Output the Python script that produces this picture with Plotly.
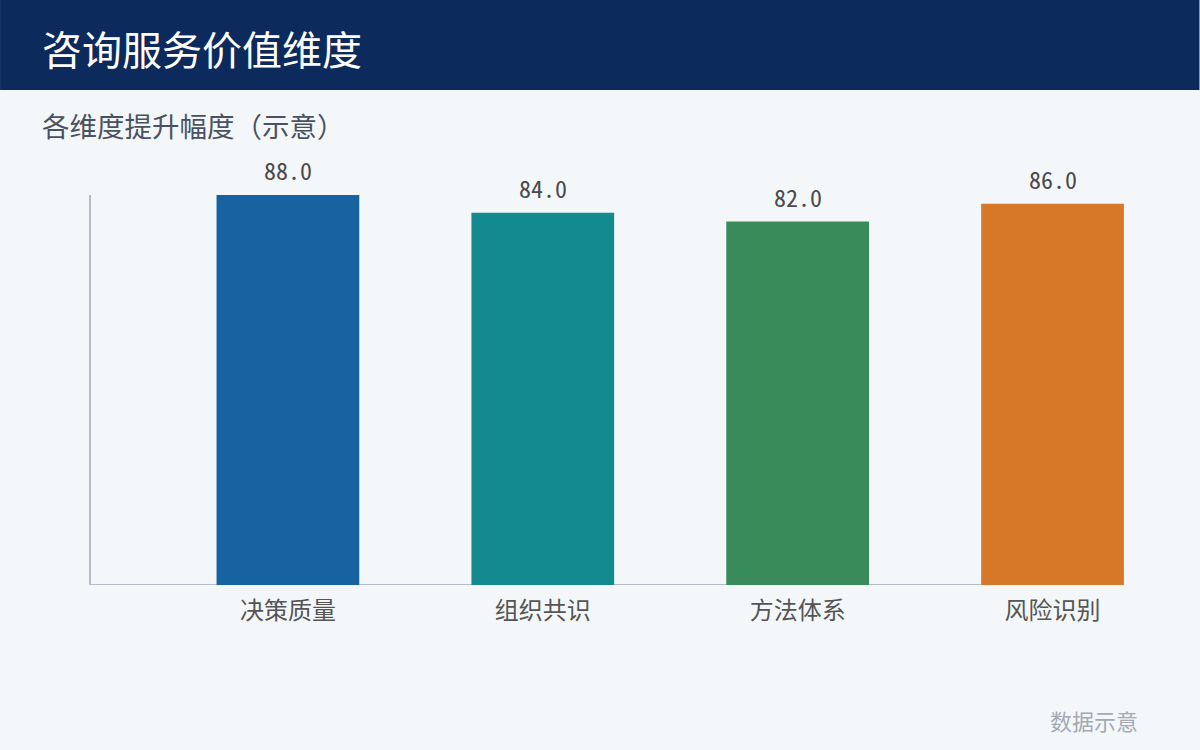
import plotly.graph_objects as go

categories = ["决策质量", "组织共识", "方法体系", "风险识别"]
values = [88.0, 84.0, 82.0, 86.0]
bar_colors = ["#1763A2", "#138B8E", "#3A8B5A", "#D77828"]

title_text = "咨询服务价值维度"
subtitle_text = "各维度提升幅度（示意）"
note_text = "数据示意"

FONT = "Noto Sans CJK SC"
NUM_FONT = "Noto Sans Mono CJK SC, Noto Sans CJK SC"

fig = go.Figure()
fig.add_trace(go.Bar(
    x=list(range(len(categories))),
    y=values,
    marker=dict(color=bar_colors, line=dict(width=0)),
    width=0.56,
    hoverinfo="skip",
))

# value labels
for i, v in enumerate(values):
    fig.add_annotation(
        x=i, y=v, text=f"{v:.1f}", showarrow=False,
        yanchor="bottom", yshift=6, xref="x", yref="y",
        font=dict(family=NUM_FONT, size=24, color="#4A4A4A"),
    )

x_lo, x_hi = -0.7725, 3.30
axis_end = 3.2235

fig.update_layout(
    width=1200, height=750,
    margin=dict(l=91, r=1200 - 1129.5, t=195, b=165),
    paper_bgcolor="#F4F7FA",
    plot_bgcolor="rgba(0,0,0,0)",
    showlegend=False,
    bargap=0.2,
    font=dict(family=FONT),
    xaxis=dict(
        range=[x_lo, x_hi],
        tickmode="array",
        tickvals=list(range(len(categories))),
        ticktext=categories,
        showline=False, showgrid=False, zeroline=False,
        ticks="", ticklabelstandoff=9,
        tickfont=dict(family=FONT, size=24, color="#555555"),
        fixedrange=True,
    ),
    yaxis=dict(
        range=[0, 88],
        showline=True, linecolor="#B3BCC7", linewidth=2,
        showgrid=False, zeroline=False,
        showticklabels=False, ticks="",
        fixedrange=True,
    ),
    shapes=[
        dict(type="rect", xref="paper", yref="paper", x0=-91 / 1038.5, x1=1 + 70.5 / 1038.5,
             y0=1 + 105 / 390, y1=1 + 195 / 390, fillcolor="#0C2A5C", line=dict(width=0),
             layer="below"),
        dict(type="line", xref="x", yref="y", x0=x_lo, x1=axis_end, y0=0, y1=0,
             line=dict(color="#B3BCC7", width=2), layer="below"),
    ],
)

fig.add_annotation(
    xref="paper", yref="paper", x=-51 / 1038.5, y=1 + 147 / 390,
    xanchor="left", yanchor="middle", showarrow=False,
    text=title_text, font=dict(family=FONT, size=40, color="#FFFFFF"),
)
fig.add_annotation(
    xref="paper", yref="paper", x=-51 / 1038.5, y=1 + 70 / 390,
    xanchor="left", yanchor="middle", showarrow=False,
    text=subtitle_text, font=dict(family=FONT, size=27.5, color="#4A5262"),
)
fig.add_annotation(
    xref="paper", yref="paper", x=(1141 - 91) / 1038.5, y=-(720 - 585) / 390,
    xanchor="right", yanchor="middle", showarrow=False,
    text=note_text, font=dict(family=FONT, size=22, color="#A3AAB4"),
)

fig.write_html(
    "out.html",
    config={"displayModeBar": False},
    post_script="document.body.style.margin='0';document.body.style.padding='0';",
)
